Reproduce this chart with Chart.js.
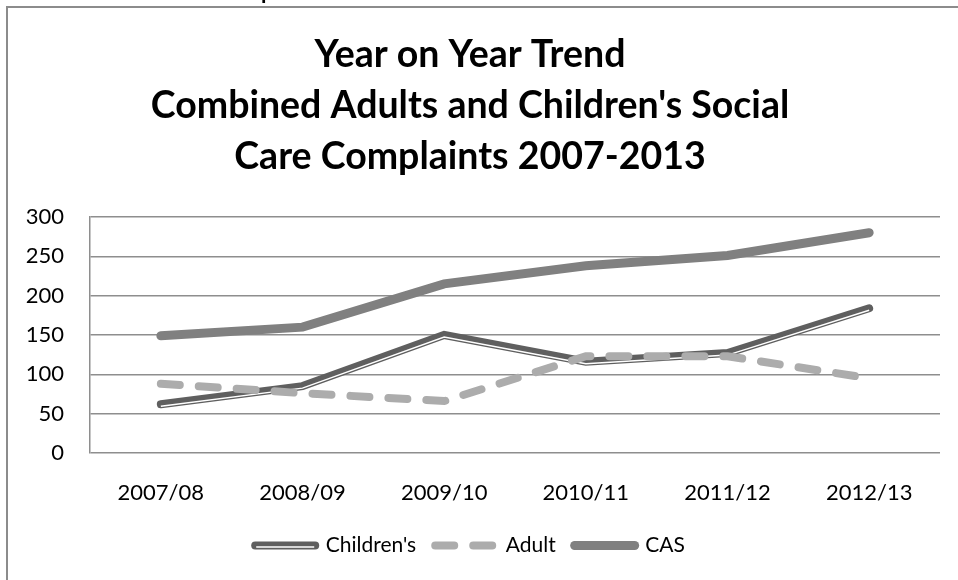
<!DOCTYPE html>
<html>
<head>
<meta charset="utf-8">
<script src="https://cdn.jsdelivr.net/npm/chart.js@4"></script>
<style>
  html, body { margin: 0; padding: 0; background: #fff; overflow: hidden; }
  #wrap { position: relative; width: 958px; height: 580px; overflow: hidden; }
  #chart { position: absolute; left: 0; top: 0; }
  #frame {
    position: absolute; left: 6px; top: 6px; width: 1000px; height: 620px;
    border: 2px solid #8c8c8c; pointer-events: none;
  }
  #cut {
    position: absolute; left: 261px; top: -20px; font: bold 22px Lato; line-height: 22px; color: #000;
  }
</style>
</head>
<body>
<div id="wrap">
  <canvas id="chart" width="958" height="580"></canvas>
  <div id="frame"></div>
  <span id="cut">p</span>
</div>
<script>
// Catégories et séries
const years = ["2007/08", "2008/09", "2009/10", "2010/11", "2011/12", "2012/13"];
const childrens = [62, 85, 150, 116, 127, 184];
const adult = [88, 76, 66, 123, 123, 95];
const cas = [149, 160, 215, 238, 251, 280];

const titleLines = [
    "Year on Year Trend",
    "Combined Adults and Children's Social",
    "Care Complaints 2007-2013",
];

const FONT = "Lato, 'Noto Sans', sans-serif";

// Ligne blanche intérieure (trait double) pour Children's
const doubleLine = {
    id: "doubleLine",
    afterDatasetDraw(chart, args) {
        if (args.index !== 0) return;
        const pts = args.meta.data;
        const ctx = chart.ctx;
        ctx.save();
        ctx.strokeStyle = "#ffffff";
        ctx.lineWidth = 1.5;
        ctx.beginPath();
        pts.forEach((p, i) => {
            if (i === 0) ctx.moveTo(p.x, p.y + 2);
            else ctx.lineTo(p.x, p.y + 2);
        });
        ctx.stroke();
        ctx.restore();
    },
    afterDraw(chart) {
        const box = chart.legend.legendHitBoxes[0];
        if (!box) return;
        const ctx = chart.ctx;
        const bw = chart.legend.options.labels.boxWidth;
        const cy = box.top + box.height / 2 + 1.5;
        ctx.save();
        ctx.strokeStyle = "#ffffff";
        ctx.lineWidth = 1.5;
        ctx.beginPath();
        ctx.moveTo(box.left + 1, cy);
        ctx.lineTo(box.left + bw - 1, cy);
        ctx.stroke();
        ctx.restore();
    },
};

const chart = new Chart(document.getElementById("chart"), {
    type: "line",
    plugins: [doubleLine],
    data: {
        labels: years,
        datasets: [
            {
                label: "Children's",
                data: childrens,
                borderColor: "#5f5f5f",
                borderWidth: 8,
                borderCapStyle: "round",
                order: 1,
            },
            {
                label: "Adult",
                data: adult,
                borderColor: "#acacac",
                borderWidth: 8,
                borderDash: [19, 19],
                borderCapStyle: "round",
                order: 0,
            },
            {
                label: "CAS",
                data: cas,
                borderColor: "#808080",
                borderWidth: 9,
                borderCapStyle: "round",
                order: 2,
            },
        ],
    },
    options: {
        responsive: false,
        animation: false,
        tension: 0,
        pointRadius: 0,
        pointHoverRadius: 0,
        layout: { padding: { left: 0, right: 18, top: 0, bottom: 14 } },
        plugins: {
            tooltip: { enabled: false },
            title: {
                display: true,
                text: titleLines,
                color: "#000",
                font: { family: FONT, size: 37.5, weight: "bold", lineHeight: 1.36 },
                padding: { top: 29, bottom: 35 },
            },
            legend: {
                position: "bottom",
                labels: {
                    color: "#000",
                    font: { family: FONT, size: 21 },
                    usePointStyle: true,
                    pointStyle: "line",
                    boxWidth: 60,
                    pointStyleWidth: 60,
                    boxHeight: 20,
                    padding: 19,
                    sort: (a, b) => a.datasetIndex - b.datasetIndex,
                    generateLabels(chart) {
                        return chart.data.datasets.map((ds, i) => ({
                            text: ds.label,
                            datasetIndex: i,
                            fillStyle: ds.borderColor,
                            strokeStyle: ds.borderColor,
                            lineWidth: ds.borderWidth,
                            lineDash: ds.borderDash || [],
                            lineCap: "round",
                            pointStyle: "line",
                            fontColor: "#000",
                            hidden: false,
                        }));
                    },
                },
            },
        },
        scales: {
            x: {
                offset: true,
                grid: { display: false, drawTicks: false },
                border: { display: false },
                ticks: { color: "#000", font: { family: FONT, size: 22 }, padding: 27 },
                afterFit(scale) { scale.height = 63; },
            },
            y: {
                min: 0,
                max: 300,
                grid: { color: "#8e8e8e", lineWidth: 1.5, drawTicks: false },
                border: { display: true, color: "#8e8e8e", width: 1.5 },
                ticks: { stepSize: 50, color: "#000", font: { family: FONT, size: 22 }, padding: 26 },
                afterFit(scale) { scale.width = 90; },
            },
        },
    },
});
</script>
</body>
</html>
